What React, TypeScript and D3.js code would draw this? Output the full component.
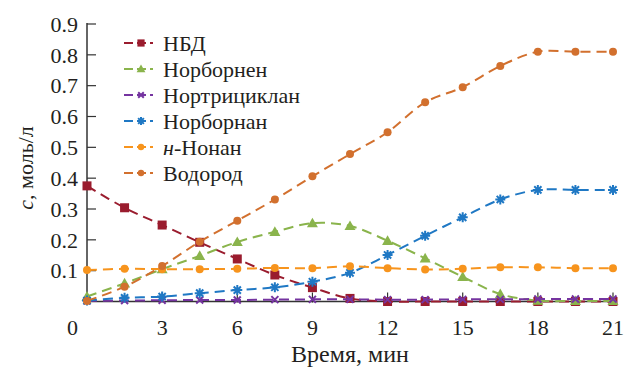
import React from 'react';
import * as d3 from 'd3';

const times = [0, 1.5, 3, 4.5, 6, 7.5, 9, 10.5, 12, 13.5, 15, 16.5, 18, 19.5, 21];

const nbd = [0.375, 0.304, 0.248, 0.192, 0.138, 0.086, 0.045, 0.01, 0, 0, 0, 0, 0, 0, 0];
const norbornene = [0.016, 0.059, 0.105, 0.148, 0.193, 0.226, 0.254, 0.245, 0.197, 0.14, 0.08, 0.024, 0.003, 0.002, 0.002];
const nortricyclane = [0.002, 0.003, 0.004, 0.005, 0.005, 0.006, 0.007, 0.007, 0.006, 0.006, 0.007, 0.007, 0.008, 0.008, 0.008];
const norbornane = [0.003, 0.012, 0.016, 0.027, 0.037, 0.046, 0.064, 0.093, 0.151, 0.213, 0.273, 0.331, 0.362, 0.362, 0.362];
const nonane = [0.102, 0.106, 0.105, 0.105, 0.106, 0.109, 0.108, 0.114, 0.108, 0.104, 0.106, 0.111, 0.111, 0.108, 0.108];
const hydrogen = [0.002, 0.048, 0.115, 0.194, 0.262, 0.331, 0.406, 0.478, 0.549, 0.646, 0.695, 0.764, 0.81, 0.81, 0.81];

const xTicks = [0, 3, 6, 9, 12, 15, 18, 21];
const yTicks = [0.1, 0.2, 0.3, 0.4, 0.5, 0.6, 0.7, 0.8, 0.9];

const series = [
  { name: 'НБД', values: nbd, color: '#9a1c2e', marker: 'square' },
  { name: 'Норборнен', values: norbornene, color: '#8ab44c', marker: 'triangle' },
  { name: 'Нортрициклан', values: nortricyclane, color: '#7534a0', marker: 'cross' },
  { name: 'Норборнан', values: norbornane, color: '#1f78c4', marker: 'star' },
  { name: 'н-Нонан', values: nonane, color: '#f7941d', marker: 'circle' },
  { name: 'Водород', values: hydrogen, color: '#d2702e', marker: 'circle' },
];

const W = 627, H = 369;
const font = "'Liberation Serif', 'DejaVu Serif', serif";

const x = d3.scaleLinear().domain([0, 21]).range([87, 613]);
const y = d3.scaleLinear().domain([0, 0.9]).range([301.5, 24]);

const Marker = ({ type, cx, cy, color, s = 1 }) => {
  if (type === 'square') {
    const h = 4.5 * s;
    return <rect x={cx - h} y={cy - h} width={2 * h} height={2 * h} fill={color} />;
  }
  if (type === 'triangle') {
    const h = 5.5 * s;
    return <path d={`M${cx},${cy - h}L${cx + h},${cy + h * 0.75}L${cx - h},${cy + h * 0.75}Z`} fill={color} />;
  }
  if (type === 'circle') {
    return <circle cx={cx} cy={cy} r={4 * s} fill={color} />;
  }
  if (type === 'cross') {
    const h = 3.5 * s;
    return (
      <path d={`M${cx - h},${cy - h}L${cx + h},${cy + h}M${cx - h},${cy + h}L${cx + h},${cy - h}`}
        stroke={color} strokeWidth={2} />
    );
  }
  // asterisk
  const h = 5 * s;
  const d = h * 0.72;
  return (
    <path d={`M${cx - d},${cy - d}L${cx + d},${cy + d}M${cx - d},${cy + d}L${cx + d},${cy - d}M${cx},${cy - h}L${cx},${cy + h}M${cx - h},${cy}L${cx + h},${cy}`}
      stroke={color} strokeWidth={2} />
  );
};

export default function App() {
  const line = d3.line<number>()
    .x((_, i) => x(times[i]))
    .y(v => y(v))
    .curve(d3.curveCatmullRom.alpha(0.5));

  const axisColor = '#333';
  const textColor = '#231f20';

  return (
    <svg width={W} height={H} style={{ position: 'absolute', left: 0, top: 0, background: '#fff', fontFamily: font }}>
      {/* y axis */}
      <line x1={x(0)} x2={x(0)} y1={y(0.9) - 1} y2={y(0)} stroke={axisColor} strokeWidth={1.5} />
      {yTicks.map(t => (
        <g key={t}>
          <line x1={x(0)} x2={x(0) + 9} y1={y(t)} y2={y(t)} stroke={axisColor} strokeWidth={1.2} />
          <text x={x(0) - 9} y={y(t)} dy="0.35em" textAnchor="end" fontSize={22} fill={textColor}>
            {t.toFixed(1)}
          </text>
        </g>
      ))}
      {/* x axis */}
      <line x1={x(0)} x2={x(21)} y1={y(0)} y2={y(0)} stroke={axisColor} strokeWidth={1.5} />
      {xTicks.map(t => (
        <g key={t}>
          {t > 0 && <line x1={x(t)} x2={x(t)} y1={y(0) - 9} y2={y(0) + 1} stroke={axisColor} strokeWidth={1.2} />}
          <text x={t === 0 ? x(t) - 9 : x(t)} y={335} textAnchor={t === 0 ? 'end' : 'middle'} fontSize={22} fill={textColor}>
            {t}
          </text>
        </g>
      ))}
      <text x={(x(0) + x(21)) / 2} y={362} textAnchor="middle" fontSize={24} fill={textColor}>Время, мин</text>
      <text transform="translate(33,168) rotate(-90)" textAnchor="middle" fontSize={22} fill={textColor}>
        <tspan fontStyle="italic">c</tspan>, моль/л
      </text>

      {/* series */}
      {series.map(s => (
        <g key={s.name}>
          <path d={line(s.values) ?? ''} fill="none" stroke={s.color} strokeWidth={2} strokeDasharray="10,6" />
          {s.values.map((v, i) => (
            <Marker key={i} type={s.marker} cx={x(times[i])} cy={y(v)} color={s.color} />
          ))}
        </g>
      ))}

      {/* legend */}
      {series.map((s, i) => {
        const ly = 43 + i * 26;
        return (
          <g key={s.name}>
            <line x1={124} x2={153} y1={ly} y2={ly} stroke={s.color} strokeWidth={2} strokeDasharray="9,4" />
            <Marker type={s.marker} cx={141} cy={ly} color={s.color} s={0.8} />
            <text x={163} y={ly} dy="0.35em" fontSize={22} fill={textColor}>
              {s.name.startsWith('н-') ? (<><tspan fontStyle="italic">н</tspan>-Нонан</>) : s.name}
            </text>
          </g>
        );
      })}
    </svg>
  );
}
